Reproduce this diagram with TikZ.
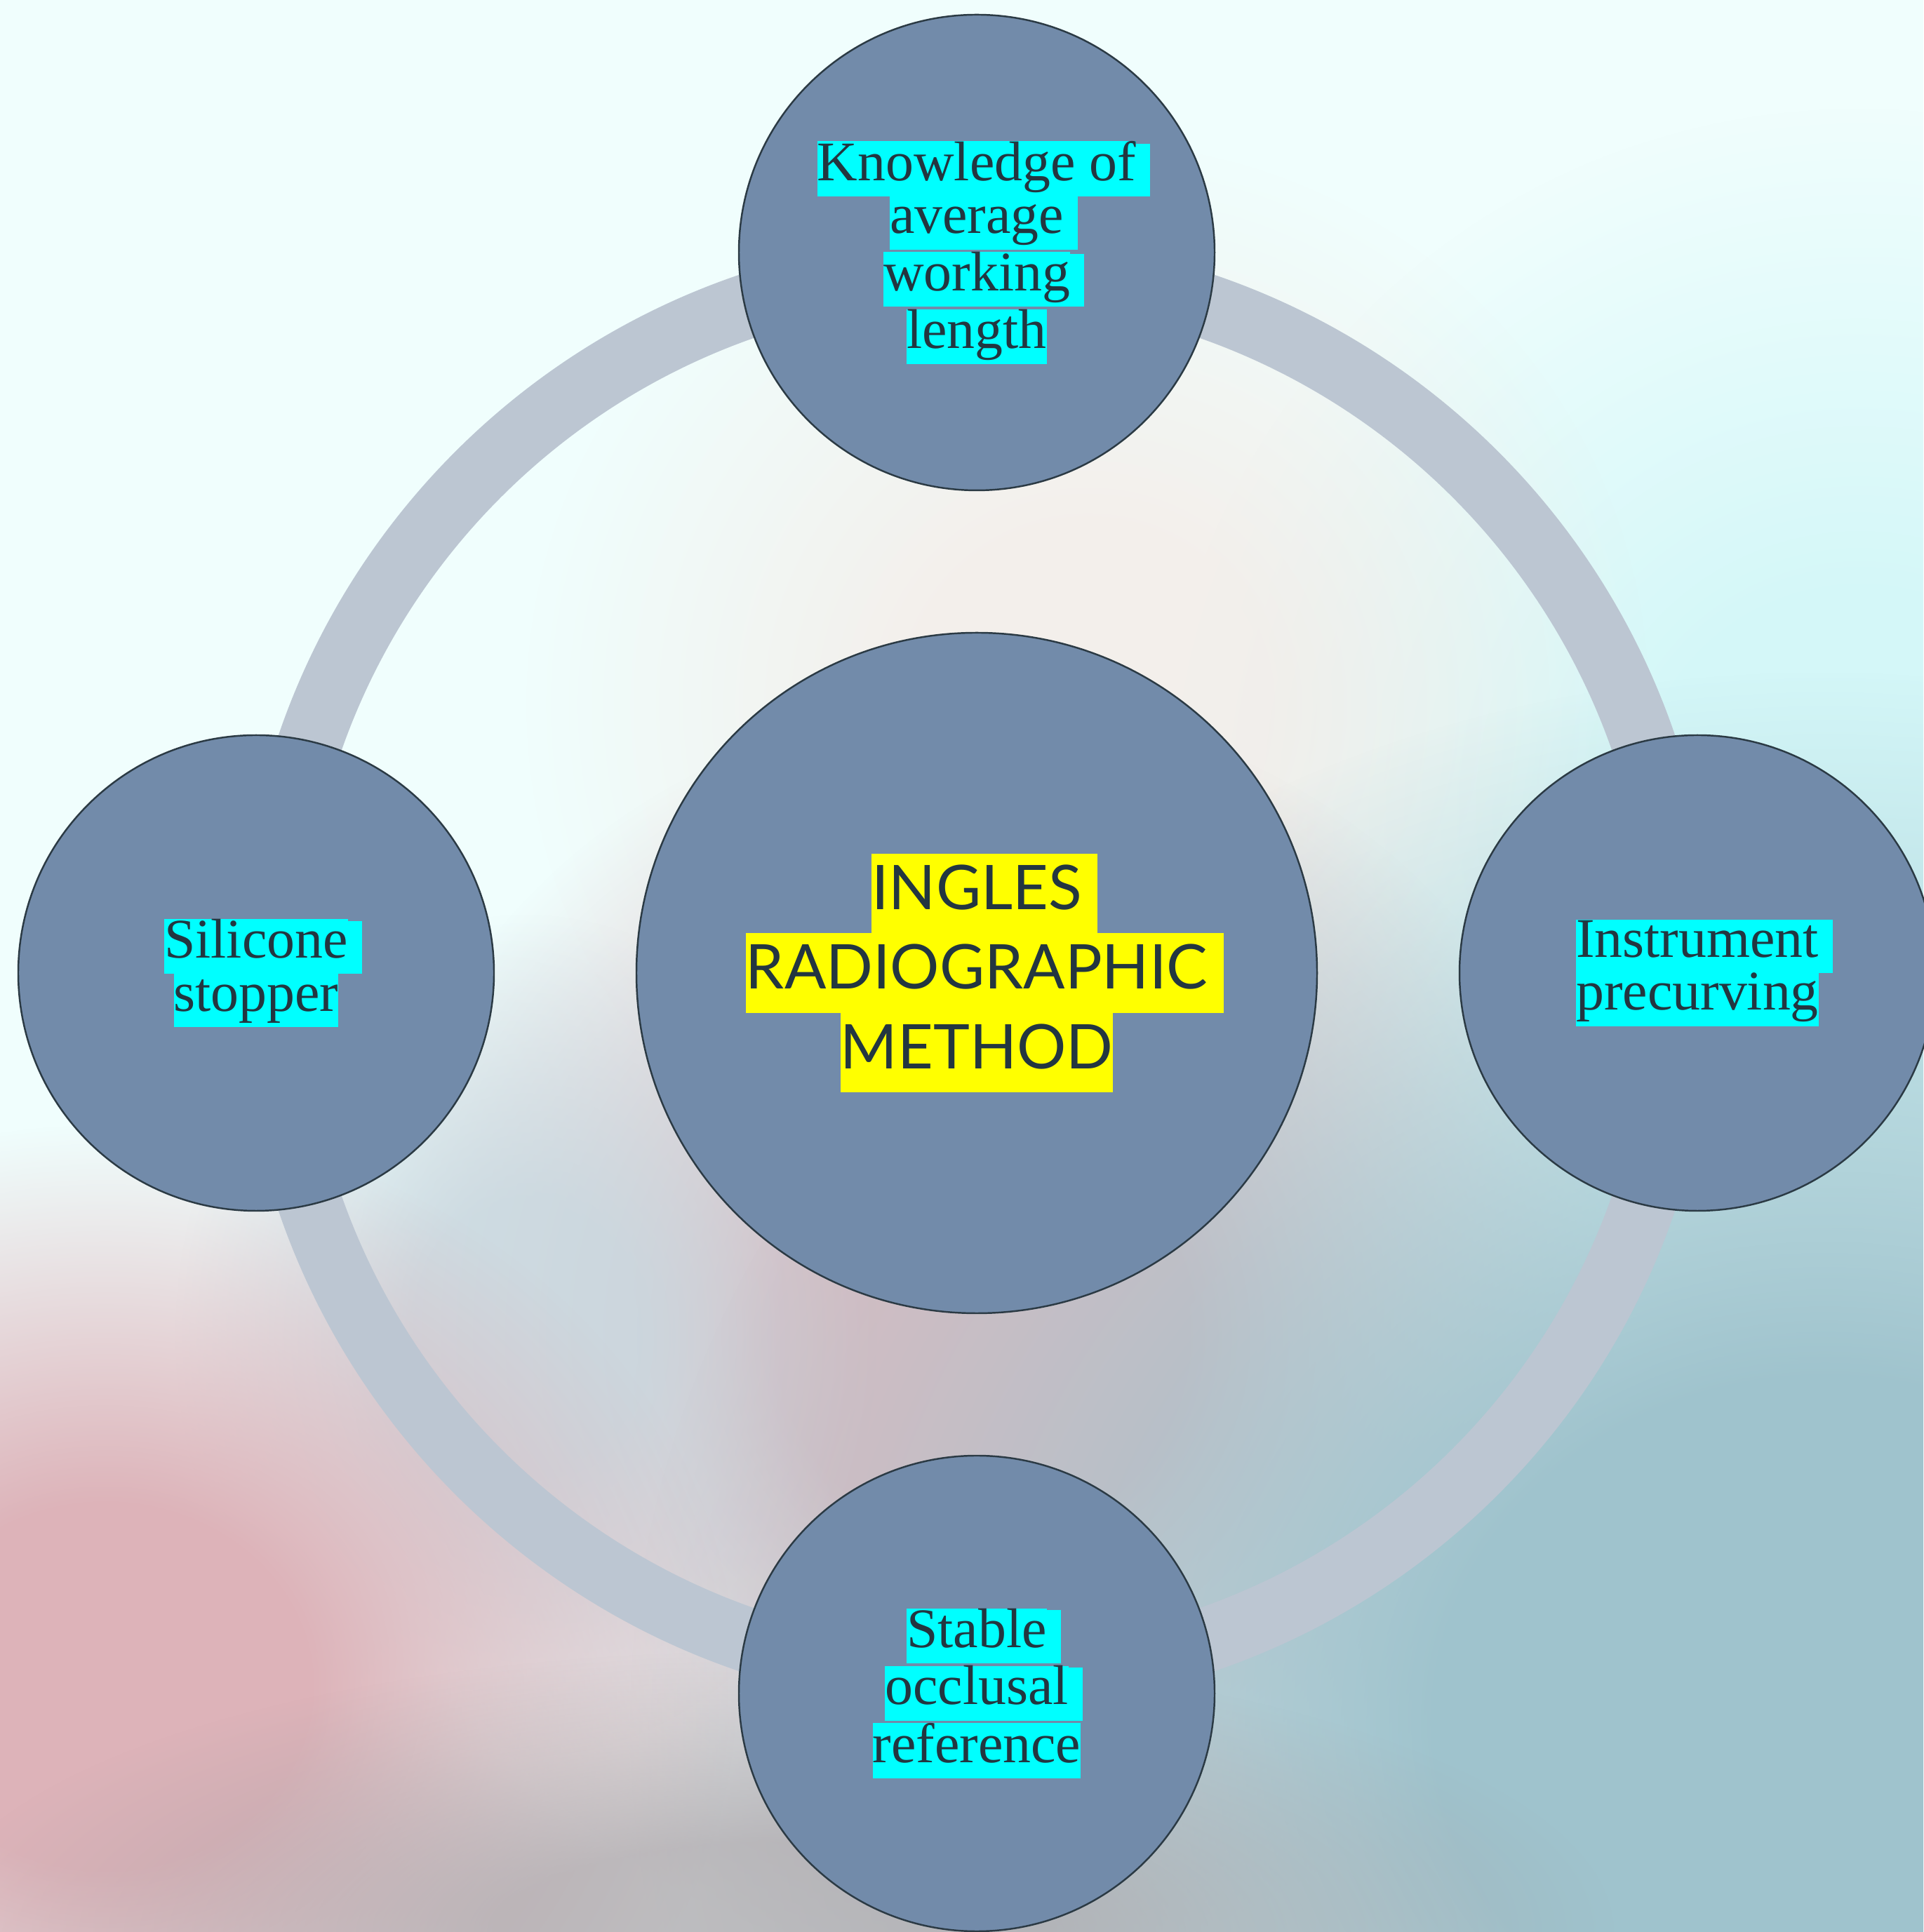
\documentclass[tikz,border=0pt]{standalone}
\usepackage{fontspec}
\usepackage{xcolor}
\usetikzlibrary{backgrounds,fadings}
\newfontfamily\leafserif{Liberation Serif}
\newfontfamily\hubsans{Lato}
\definecolor{bgbase}{HTML}{F0FEFD}
\definecolor{bgcyan}{HTML}{D2F7F8}
\definecolor{bgteal}{HTML}{9FC3CD}
\definecolor{bgrose}{HTML}{DDB3B9}
\definecolor{bgwarm}{HTML}{D8BCC2}
\definecolor{bggrey}{HTML}{A9A2A6}
\definecolor{bgslate}{HTML}{C7D7DF}
\definecolor{bgpeach}{HTML}{F6E6E0}
\definecolor{ringcol}{HTML}{BCC6D2}
\definecolor{nodefill}{HTML}{728BAA}
\definecolor{nodeline}{HTML}{2B3A44}
\definecolor{txt}{HTML}{233640}
\definecolor{hlcyan}{HTML}{00FFFF}
\definecolor{hlyellow}{HTML}{FFFF00}
\pgfdeclareradialshading{blobshade}{\pgfpoint{0bp}{0bp}}{color(0bp)=(white); color(8bp)=(white); color(25bp)=(black); color(50bp)=(black)}
\pgfdeclarefading{blob}{\pgfuseshading{blobshade}}
\newcommand{\hilite}[2]{{\setlength{\fboxsep}{0pt}\colorbox{#1}{\strut#2}}}
\newcommand{\hilitesp}[2]{\hilite{#1}{#2}\rlap{\hilite{#1}{\ }}}
\newcommand{\hubfont}{\hubsans\fontsize{25}{32.3}\selectfont}
\newcommand{\leaffont}{\leafserif\fontsize{22.7}{21.5}\selectfont}
\tikzset{
  bubble/.style={circle, draw=nodeline, fill=nodefill, line width=0.7pt,
                 inner sep=0pt, align=center, text=txt},
  hubbubble/.style={bubble, minimum size=9.7cm, font=\hubfont},
  leafbubble/.style={bubble, minimum size=6.78cm, font=\leaffont},
  ringline/.style={draw=ringcol, line width=0.92cm},
  bgblob/.style={fill=#1, path fading=blob}
}
\begin{document}
\begin{tikzpicture}[x=1cm,y=1cm]
  \useasboundingbox (0,0) rectangle (27.41,27.54);
  \node[hubbubble] (hub) at (13.92,13.67)
    {\hilitesp{hlyellow}{INGLES}\\\hilitesp{hlyellow}{RADIOGRAPHIC}\\\hilite{hlyellow}{METHOD}};
  \node[leafbubble] (know) at (13.92,23.94)
    {\hilitesp{hlcyan}{Knowledge of}\\\hilitesp{hlcyan}{average}\\\hilitesp{hlcyan}{working}\\\hilite{hlcyan}{length}};
  \node[leafbubble] (curve) at (24.19,13.67)
    {\hilitesp{hlcyan}{Instrument}\\\hilite{hlcyan}{precurving}};
  \node[leafbubble] (occl) at (13.92,3.40)
    {\hilitesp{hlcyan}{Stable}\\\hilitesp{hlcyan}{occlusal}\\\hilite{hlcyan}{reference}};
  \node[leafbubble] (stop) at (3.65,13.67)
    {\hilitesp{hlcyan}{Silicone}\\\hilite{hlcyan}{stopper}};
  \begin{scope}[on background layer]
    \clip (0,0) rectangle (27.41,27.54);
    \fill[bgbase] (0,0) rectangle (27.41,27.54);
    \fill[bgblob=bgcyan, fill opacity=0.9] (26.5,16) circle (10);
    \fill[bgblob=bgpeach, fill opacity=0.6] (15.5,17.5) circle (8);
    \fill[bgblob=bgwarm] (14,8.5) circle (9);
    \fill[bgblob=bgslate, fill opacity=0.8] (7.5,8.5) ellipse (5 and 6);
    \fill[bgblob=bgteal] (26,3) ellipse (17 and 15);
    \fill[bgblob=bgrose] (1.5,3.5) ellipse (9 and 8);
    \fill[bgblob=bggrey, fill opacity=0.7] (11,0) ellipse (12 and 4);
    \draw[ringline] (hub.center) circle (10.05);
  \end{scope}
\end{tikzpicture}
\end{document}
